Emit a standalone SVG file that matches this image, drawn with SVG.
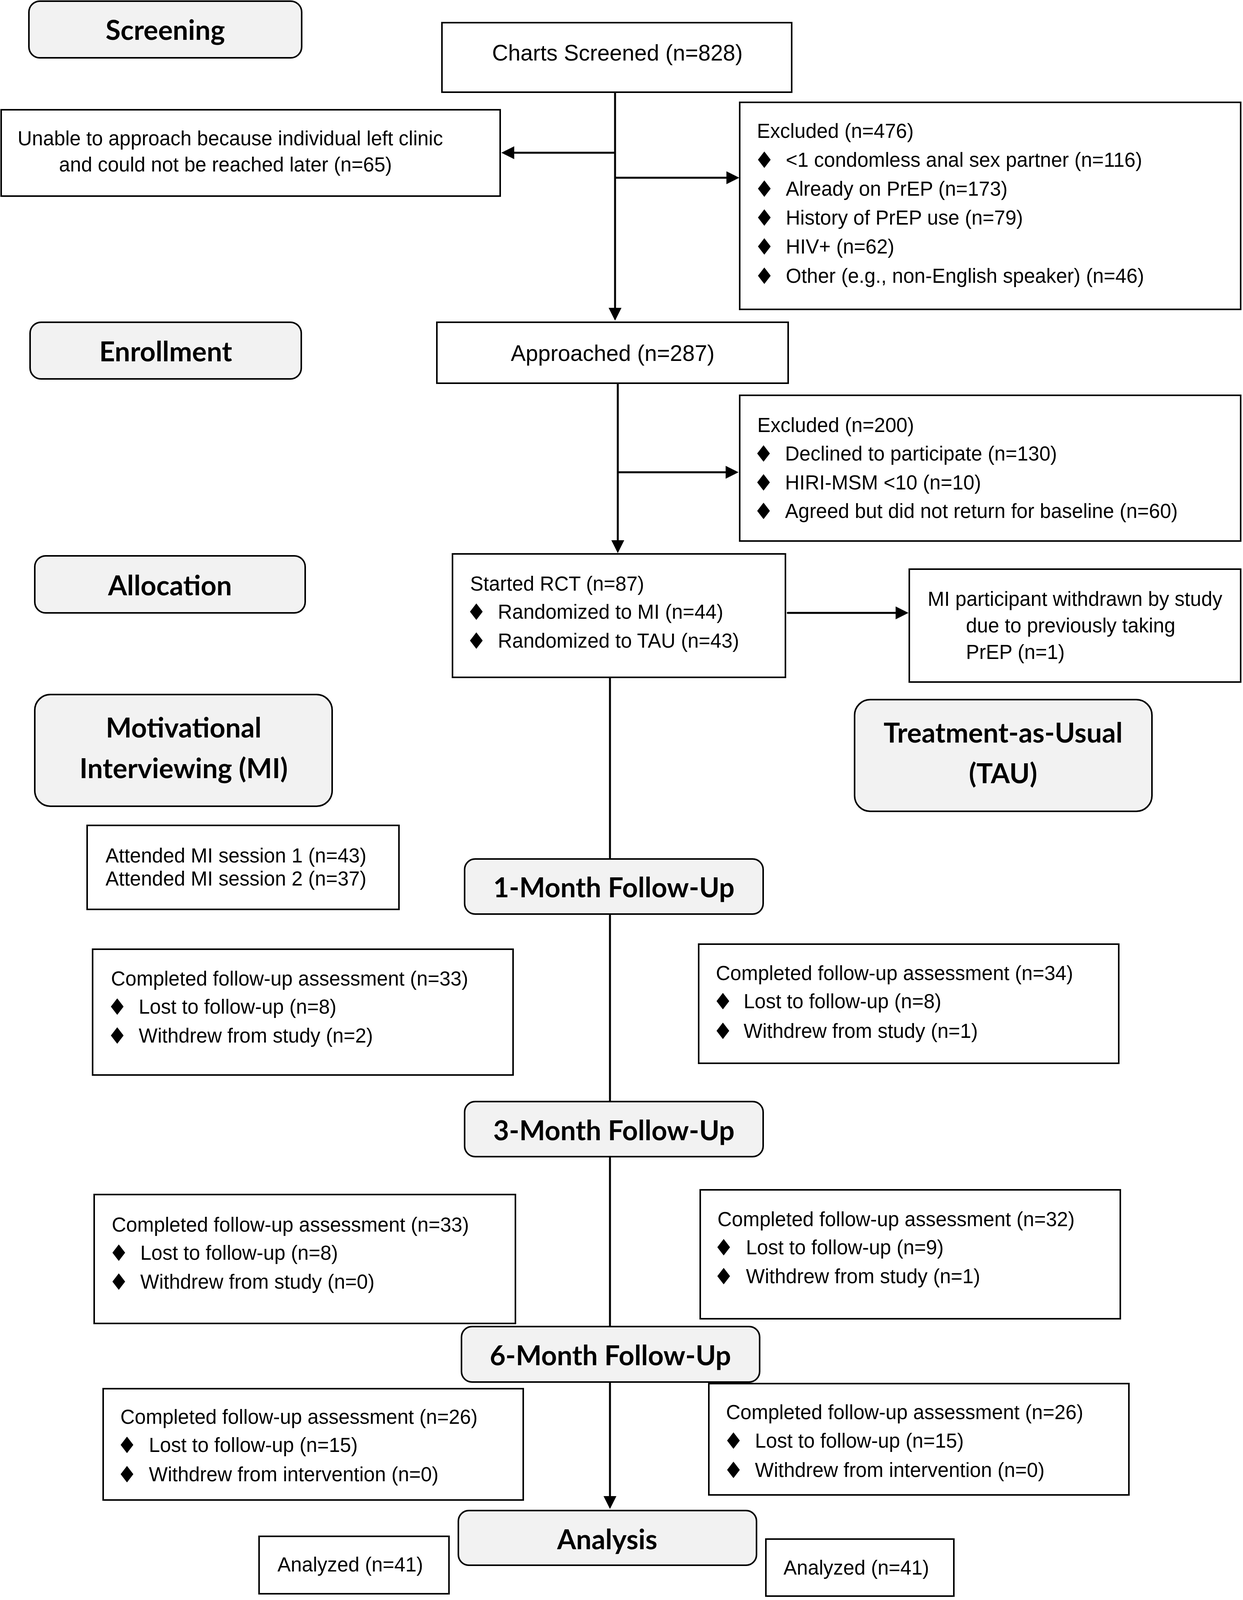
<svg xmlns="http://www.w3.org/2000/svg" width="3181" height="4200" viewBox="0 0 3181 4200">
<defs>
<style>
.box{fill:#fff;stroke:#000;stroke-width:4}
.hd{fill:#f2f2f2;stroke:#000;stroke-width:4}
.t{font-family:"Liberation Sans",Arial,sans-serif;font-size:51px;fill:#000}
.tl{font-family:"Liberation Sans",Arial,sans-serif;font-size:57px;fill:#000}
.h{font-family:Lato,"Open Sans",sans-serif;font-weight:bold;font-size:70px;fill:#000}
.b{font-family:"DejaVu Sans",sans-serif;font-size:58px;fill:#000}
.ln{fill:none;stroke:#000;stroke-width:5}
</style>
<marker id="ah" markerUnits="userSpaceOnUse" markerWidth="34" markerHeight="34" refX="24" refY="16.5" orient="auto" viewBox="0 0 34 33">
<path d="M0,0 L33,16.5 L0,33 Z" fill="#000"/>
</marker>
</defs>
<rect width="3181" height="4200" fill="#fff"/>

<g id="connectors">
<line class="ln" x1="1574" y1="236" x2="1574" y2="812" marker-end="url(#ah)"/>
<line class="ln" x1="1574" y1="391" x2="1292" y2="391" marker-end="url(#ah)"/>
<line class="ln" x1="1576" y1="455" x2="1883" y2="455" marker-end="url(#ah)"/>
<line class="ln" x1="1581" y1="981" x2="1581" y2="1407" marker-end="url(#ah)"/>
<line class="ln" x1="1581" y1="1209" x2="1881" y2="1209" marker-end="url(#ah)"/>
<line class="ln" x1="2016" y1="1569" x2="2316" y2="1569" stroke-linecap="round" marker-end="url(#ah)"/>
<line class="ln" x1="1561" y1="1734" x2="1561" y2="2199"/>
<line class="ln" x1="1561" y1="2340" x2="1561" y2="2820"/>
<line class="ln" x1="1561" y1="2961" x2="1561" y2="3396"/>
<line class="ln" x1="1561" y1="3538" x2="1561" y2="3854" marker-end="url(#ah)"/>
</g>

<g id="screening">
<rect class="hd" x="74" y="3" width="698" height="145" rx="28"/>
<text class="h" x="423" y="102" text-anchor="middle">Screening</text>
</g>
<g id="charts-screened">
<rect class="box" x="1131" y="58" width="895" height="178"/>
<text class="tl" x="1580" y="155" text-anchor="middle">Charts Screened (n=828)</text>
</g>
<g id="unable">
<rect class="box" x="3" y="281" width="1277" height="221"/>
<text class="t" x="45" y="372">Unable to approach because individual left clinic</text>
<text class="t" x="151" y="439">and could not be reached later (n=65)</text>
</g>
<g id="excluded-476">
<rect class="box" x="1893" y="262" width="1282" height="530"/>
<text class="t" x="1937" y="353">Excluded (n=476)</text>
<text class="b" x="1956" y="430" text-anchor="middle">♦</text>
<text class="t" x="2011" y="427">&lt;1 condomless anal sex partner (n=116)</text>
<text class="b" x="1956" y="504" text-anchor="middle">♦</text>
<text class="t" x="2011" y="501">Already on PrEP (n=173)</text>
<text class="b" x="1956" y="578" text-anchor="middle">♦</text>
<text class="t" x="2011" y="575">History of PrEP use (n=79)</text>
<text class="b" x="1956" y="652" text-anchor="middle">♦</text>
<text class="t" x="2011" y="649">HIV+ (n=62)</text>
<text class="b" x="1956" y="727" text-anchor="middle">♦</text>
<text class="t" x="2011" y="724">Other (e.g., non-English speaker) (n=46)</text>
</g>

<g id="enrollment">
<rect class="hd" x="77" y="825" width="694" height="145" rx="28"/>
<text class="h" x="424" y="925" text-anchor="middle">Enrollment</text>
</g>
<g id="approached">
<rect class="box" x="1118" y="825" width="899" height="156"/>
<text class="tl" x="1568" y="924" text-anchor="middle">Approached (n=287)</text>
</g>
<g id="excluded-200">
<rect class="box" x="1893" y="1012" width="1282" height="373"/>
<text class="t" x="1938" y="1106">Excluded (n=200)</text>
<text class="b" x="1954" y="1182" text-anchor="middle">♦</text>
<text class="t" x="2009" y="1179">Declined to participate (n=130)</text>
<text class="b" x="1954" y="1256" text-anchor="middle">♦</text>
<text class="t" x="2009" y="1253">HIRI-MSM &lt;10 (n=10)</text>
<text class="b" x="1954" y="1329" text-anchor="middle">♦</text>
<text class="t" x="2009" y="1326">Agreed but did not return for baseline (n=60)</text>
</g>

<g id="allocation">
<rect class="hd" x="89" y="1423" width="692" height="146" rx="28"/>
<text class="h" x="435" y="1524" text-anchor="middle">Allocation</text>
</g>
<g id="started-rct">
<rect class="box" x="1158" y="1418" width="852" height="316"/>
<text class="t" x="1203" y="1512">Started RCT (n=87)</text>
<text class="b" x="1219" y="1587" text-anchor="middle">♦</text>
<text class="t" x="1274" y="1584">Randomized to MI (n=44)</text>
<text class="b" x="1219" y="1661" text-anchor="middle">♦</text>
<text class="t" x="1274" y="1658">Randomized to TAU (n=43)</text>
</g>
<g id="mi-withdrawn">
<rect class="box" x="2327" y="1457" width="848" height="289"/>
<text class="t" x="2374" y="1551">MI participant withdrawn by study</text>
<text class="t" x="2472" y="1619">due to previously taking</text>
<text class="t" x="2472" y="1687">PrEP (n=1)</text>
</g>

<g id="mi-arm">
<rect class="hd" x="89" y="1778" width="761" height="286" rx="40"/>
<text class="h" x="470" y="1888" text-anchor="middle">Motivational</text>
<text class="h" x="470" y="1992" text-anchor="middle">Interviewing (MI)</text>
</g>
<g id="tau-arm">
<rect class="hd" x="2187" y="1791" width="761" height="286" rx="40"/>
<text class="h" x="2567" y="1901" text-anchor="middle">Treatment-as-Usual</text>
<text class="h" x="2567" y="2005" text-anchor="middle">(TAU)</text>
</g>
<g id="attended">
<rect class="box" x="223" y="2113" width="798" height="215"/>
<text class="t" x="270" y="2208">Attended MI session 1 (n=43)</text>
<text class="t" x="270" y="2267">Attended MI session 2 (n=37)</text>
</g>

<g id="month1">
<rect class="hd" x="1189" y="2199" width="764" height="141" rx="27"/>
<text class="h" x="1571" y="2297" text-anchor="middle" font-size="68">1-Month Follow-Up</text>
</g>
<g id="mi-month1">
<rect class="box" x="237" y="2430" width="1076" height="322"/>
<text class="t" x="284" y="2523">Completed follow-up assessment (n=33)</text>
<text class="b" x="300" y="2598" text-anchor="middle">♦</text>
<text class="t" x="355" y="2595">Lost to follow-up (n=8)</text>
<text class="b" x="300" y="2672" text-anchor="middle">♦</text>
<text class="t" x="355" y="2669">Withdrew from study (n=2)</text>
</g>
<g id="tau-month1">
<rect class="box" x="1788" y="2417" width="1075" height="305"/>
<text class="t" x="1832" y="2509">Completed follow-up assessment (n=34)</text>
<text class="b" x="1850" y="2584" text-anchor="middle">♦</text>
<text class="t" x="1903" y="2581">Lost to follow-up (n=8)</text>
<text class="b" x="1850" y="2660" text-anchor="middle">♦</text>
<text class="t" x="1903" y="2657">Withdrew from study (n=1)</text>
</g>

<g id="month3">
<rect class="hd" x="1189" y="2820" width="764" height="141" rx="27"/>
<text class="h" x="1571" y="2919" text-anchor="middle" font-size="68">3-Month Follow-Up</text>
</g>
<g id="mi-month3">
<rect class="box" x="241" y="3058" width="1078" height="330"/>
<text class="t" x="286" y="3153">Completed follow-up assessment (n=33)</text>
<text class="b" x="304" y="3228" text-anchor="middle">♦</text>
<text class="t" x="359" y="3225">Lost to follow-up (n=8)</text>
<text class="b" x="304" y="3302" text-anchor="middle">♦</text>
<text class="t" x="359" y="3299">Withdrew from study (n=0)</text>
</g>
<g id="tau-month3">
<rect class="box" x="1792" y="3046" width="1075" height="330"/>
<text class="t" x="1836" y="3139">Completed follow-up assessment (n=32)</text>
<text class="b" x="1852" y="3214" text-anchor="middle">♦</text>
<text class="t" x="1909" y="3211">Lost to follow-up (n=9)</text>
<text class="b" x="1852" y="3288" text-anchor="middle">♦</text>
<text class="t" x="1909" y="3285">Withdrew from study (n=1)</text>
</g>

<g id="month6">
<rect class="hd" x="1181" y="3396" width="763" height="142" rx="27"/>
<text class="h" x="1562" y="3495" text-anchor="middle" font-size="68">6-Month Follow-Up</text>
</g>
<g id="mi-month6">
<rect class="box" x="264" y="3555" width="1075" height="285"/>
<text class="t" x="308" y="3645">Completed follow-up assessment (n=26)</text>
<text class="b" x="325" y="3720" text-anchor="middle">♦</text>
<text class="t" x="381" y="3717">Lost to follow-up (n=15)</text>
<text class="b" x="325" y="3795" text-anchor="middle">♦</text>
<text class="t" x="381" y="3792">Withdrew from intervention (n=0)</text>
</g>
<g id="tau-month6">
<rect class="box" x="1814" y="3542" width="1075" height="285"/>
<text class="t" x="1858" y="3633">Completed follow-up assessment (n=26)</text>
<text class="b" x="1877" y="3709" text-anchor="middle">♦</text>
<text class="t" x="1932" y="3706">Lost to follow-up (n=15)</text>
<text class="b" x="1877" y="3784" text-anchor="middle">♦</text>
<text class="t" x="1932" y="3781">Withdrew from intervention (n=0)</text>
</g>

<g id="analysis">
<rect class="hd" x="1173" y="3867" width="763" height="140" rx="27"/>
<text class="h" x="1554" y="3966" text-anchor="middle">Analysis</text>
</g>
<g id="analyzed-mi">
<rect class="box" x="663" y="3933" width="486" height="147"/>
<text class="t" x="710" y="4023">Analyzed (n=41)</text>
</g>
<g id="analyzed-tau">
<rect class="box" x="1960" y="3940" width="481" height="146"/>
<text class="t" x="2005" y="4031">Analyzed (n=41)</text>
</g>
</svg>
